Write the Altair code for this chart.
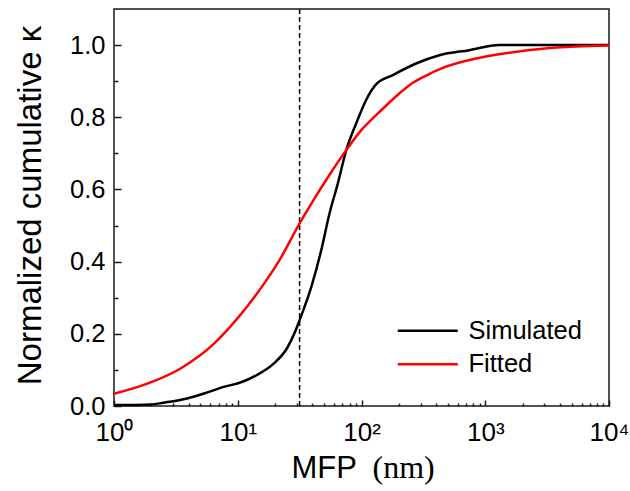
import json
import altair as alt
import pandas as pd

# ---- data ----
sim_x = [1, 1.5, 2, 2.5, 3.9, 5.6, 7.7, 10.5, 14.3, 19.6, 25, 29, 31.6, 39.3,
         47.3, 55.2, 64.4, 75.3, 90.6, 109, 131, 179, 276, 426, 743, 1300, 3000, 10000]
sim_y = [0.003, 0.003, 0.004, 0.009, 0.021, 0.037, 0.053, 0.065, 0.086, 0.118,
         0.16, 0.205, 0.238, 0.33, 0.432, 0.534, 0.617, 0.709, 0.783, 0.848,
         0.891, 0.917, 0.949, 0.972, 0.986, 1.0, 1.0, 1.0]

fit_x = [1, 1.86, 3.45, 6.4, 8.7, 12, 16, 21.8, 31.6, 40, 55, 75.3, 100, 139.7,
         202, 244, 330, 453, 841, 1562, 2900, 5380, 10000]
fit_y = [0.034, 0.062, 0.104, 0.172, 0.22, 0.277, 0.335, 0.405, 0.506, 0.565,
         0.64, 0.709, 0.765, 0.815, 0.866, 0.889, 0.915, 0.937, 0.963, 0.979,
         0.99, 0.996, 0.999]

series_names = ["Simulated", "Fitted"]
series_colors = ["#000000", "#ff0000"]
marker_x = [31.6]

x_major = [1, 10, 100, 1000, 10000]
x_major_labels = ["10⁰", "10¹", "10²", "10³", "10⁴"]
x_minor = [m * 10 ** d for d in range(4) for m in range(2, 10)]
y_major = [0, 0.2, 0.4, 0.6, 0.8, 1.0]
y_minor = [0.1, 0.3, 0.5, 0.7, 0.9]

curves = pd.concat([
    pd.DataFrame({"x": sim_x, "y": sim_y, "series": series_names[0], "k": 0}),
    pd.DataFrame({"x": fit_x, "y": fit_y, "series": series_names[1], "k": 1}),
], ignore_index=True)
marker = pd.DataFrame({"x": marker_x})

xscale = alt.Scale(type="log", domain=[1, 10000])
yscale = alt.Scale(domain=[0, 1.1])

label_expr = json.dumps(x_major_labels, ensure_ascii=False) + "[round(log(datum.value)/LN10)]"

AX = "#1a1a1a"

lines = alt.Chart(curves).mark_line(strokeWidth=2.5, interpolate="monotone").encode(
    x=alt.X("x:Q", scale=xscale, axis=alt.Axis(
        orient="bottom",
        values=x_major, labelExpr=label_expr, ticks=False, domain=False, grid=False,
        labelPadding=13, labelFontSize=26, labelFlush=False, labelOverlap=False,
        title="MFP", titleFontSize=31, titleX=177, titleY=71,
        titleAlign="left", titleBaseline="alphabetic")),
    y=alt.Y("y:Q", scale=yscale, axis=alt.Axis(
        orient="left",
        values=y_major, format=".1f", ticks=False, domain=False, grid=False,
        labelPadding=9, labelFontSize=25.5, labelFlush=False,
        title="Normalized cumulative κ", titleFontSize=33, titleX=-74, titleY=196,
        titleAngle=-90, titleAlign="center", titleBaseline="alphabetic")),
    color=alt.Color("series:N", scale=alt.Scale(domain=series_names, range=series_colors),
                    legend=alt.Legend(
                        title=None, orient="none", legendX=301, legendY=309,
                        symbolType="M-3,0H3", symbolSize=400, symbolStrokeWidth=2.5,
                        labelFontSize=25.5, labelFont="Liberation Sans", labelColor="#000",
                        labelOffset=28, rowPadding=6.5, padding=0)),
    order=alt.Order("k:Q"),
)


def tick_layer(xaxis, yaxis):
    return alt.Chart(curves).mark_point(opacity=0, size=1).encode(
        x=alt.X("x:Q", scale=xscale, axis=xaxis),
        y=alt.Y("y:Q", scale=yscale, axis=yaxis),
    )


def tick_axis(orient, vals, size, **kw):
    return alt.Axis(orient=orient, values=vals, ticks=True, tickSize=size, offset=-size,
                    tickWidth=1.5, tickColor=AX, labels=False, domain=False, grid=False, **kw)


x_maj = tick_layer(tick_axis("bottom", x_major, 6, title=""), None)
x_min = tick_layer(tick_axis("bottom", x_minor, 3, title="(nm)", titleFont="Liberation Serif",
                             titleFontSize=32, titleX=258, titleY=74,
                             titleAlign="left", titleBaseline="alphabetic"), None)
y_maj = tick_layer(None, tick_axis("left", y_major, 7, title=""))
y_min = tick_layer(None, tick_axis("left", y_minor, 4, title=""))

rule = alt.Chart(marker).mark_rule(strokeDash=[5, 3], strokeWidth=1.5, color="#000").encode(
    x=alt.X("x:Q", scale=xscale, axis=None)
)

chart = alt.layer(rule, x_maj, x_min, y_maj, y_min, lines).resolve_axis(
    x="independent", y="independent"
).properties(
    width=495, height=397,
    autosize=alt.AutoSizeParams(type="none"),
    padding={"left": 114, "top": 9, "right": 21, "bottom": 85},
    background="white",
).configure_axis(
    labelFont="Liberation Sans", titleFont="Liberation Sans", titleFontWeight="normal",
    labelColor="#000", titleColor="#000",
).configure_view(stroke=AX, strokeWidth=1.5)

chart.save("out.html", embed_options={"renderer": "svg", "actions": False})
